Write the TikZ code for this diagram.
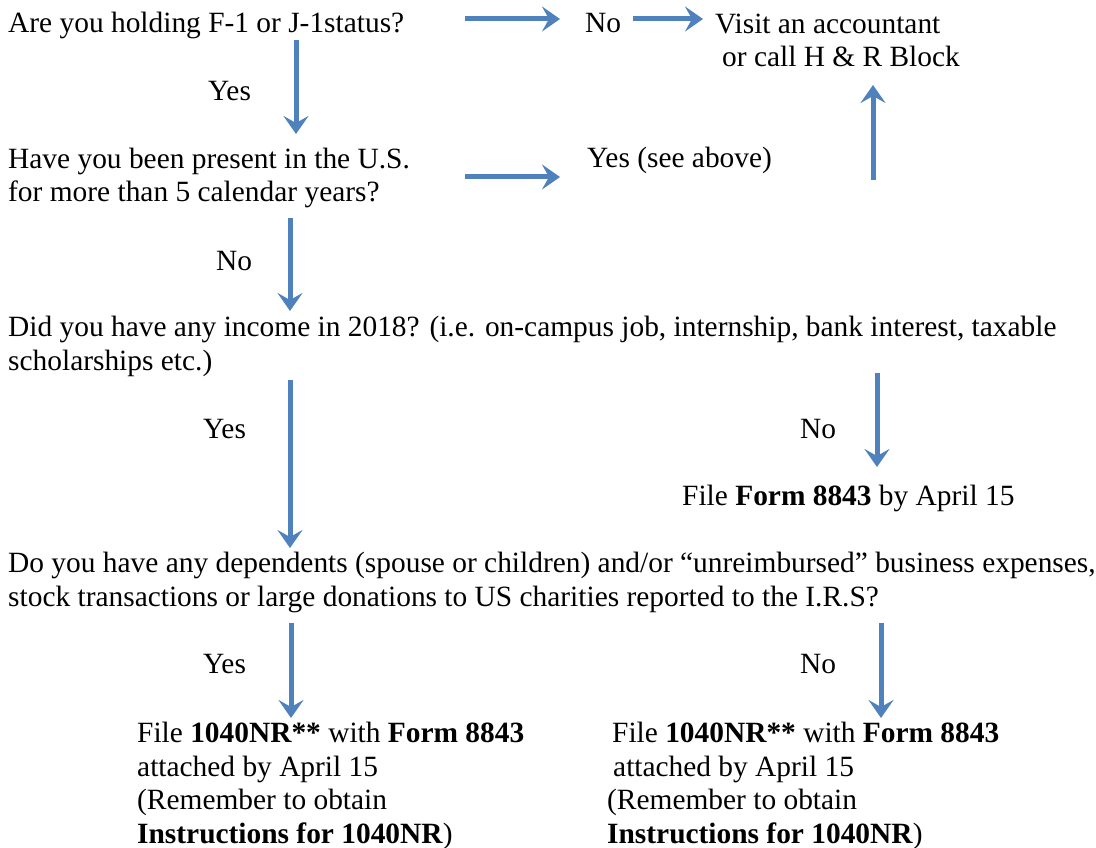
\documentclass[tikz,border=0pt]{standalone}
\usepackage{fontspec}
\setmainfont{Liberation Serif}
\usetikzlibrary{arrows.meta}
\definecolor{flowblue}{HTML}{4F81BD}
\tikzset{txt/.style = {anchor=base west, inner sep=0pt, align=left, font=\fontsize{29.4}{33.5}\selectfont}}
\tikzset{flow/.style = {draw=flowblue, line width=5pt, -{Stealth[length=18pt,width=25pt,inset=7pt]}}}

\begin{document}
\begin{tikzpicture}[x=1pt, y=-1pt]
                    \useasboundingbox (0,0) rectangle (1096,848);

                    % questions (multi-line nodes sit on their last baseline)
                    \node[txt] (status) at (8,33) {Are you holding F-1 or J-1status?};
                    \node[txt] (years) at (8,202) {Have you been present in the U.S.\\for more than 5 calendar years?};
                    \node[txt] (income) at (8,370) {Did you have any income in 2018? (i.e. on-campus job, internship, bank interest, taxable\\scholarships etc.)};
                    \node[txt] (deps) at (8,606) {Do you have any dependents (spouse or children) and/or ``unreimbursed'' business expenses,\\stock transactions or large donations to US charities reported to the I.R.S?};

                    % answers
                    \node[txt] (no1) at (585,33) {No};
                    \node[txt] (yes1) at (208,101) {Yes};
                    \node[txt] (yes2) at (587,168) {Yes (see above)};
                    \node[txt] (no2) at (216,270) {No};
                    \node[txt] (yes3) at (203,438) {Yes};
                    \node[txt] (no3) at (800,438) {No};
                    \node[txt] (yes4) at (203,673) {Yes};
                    \node[txt] (no4) at (800,673) {No};

                    % outcomes
                    \node[txt] (acct) at (715,67) {Visit an accountant\\\hspace*{7pt}or call H \& R Block};
                    \node[txt] (form) at (682,505) {File \textbf{Form 8843} by April 15};
                    \node[txt] (nrleft) at (137,843) {File \textbf{1040NR**} with \textbf{Form 8843}\\attached by April 15\\(Remember to obtain\\\textbf{Instructions for 1040NR})};
                    \node[txt] (nrright) at (607,843) {\hspace*{5pt}File \textbf{1040NR**} with \textbf{Form 8843}\\\hspace*{6pt}attached by April 15\\(Remember to obtain\\\textbf{Instructions for 1040NR})};

                    % arrow ends
                    \coordinate (a1) at (465,19);  \coordinate (b1) at (560,19);
                    \coordinate (a2) at (633,19);  \coordinate (b2) at (703,19);
                    \coordinate (a3) at (296,40);  \coordinate (b3) at (296,134);
                    \coordinate (a4) at (465,177); \coordinate (b4) at (560,177);
                    \coordinate (a5) at (873,180); \coordinate (b5) at (873,85);
                    \coordinate (a6) at (290,218); \coordinate (b6) at (290,311);
                    \coordinate (a7) at (290,380); \coordinate (b7) at (290,548);
                    \coordinate (a8) at (877,373); \coordinate (b8) at (877,467);
                    \coordinate (a9) at (291,623); \coordinate (b9) at (291,718);
                    \coordinate (a10) at (881,623); \coordinate (b10) at (881,718);

                    \draw[flow] (a1) -- (b1);
                    \draw[flow] (a2) -- (b2);
                    \draw[flow] (a3) -- (b3);
                    \draw[flow] (a4) -- (b4);
                    \draw[flow] (a5) -- (b5);
                    \draw[flow] (a6) -- (b6);
                    \draw[flow] (a7) -- (b7);
                    \draw[flow] (a8) -- (b8);
                    \draw[flow] (a9) -- (b9);
                    \draw[flow] (a10) -- (b10);
                \end{tikzpicture}
\end{document}
